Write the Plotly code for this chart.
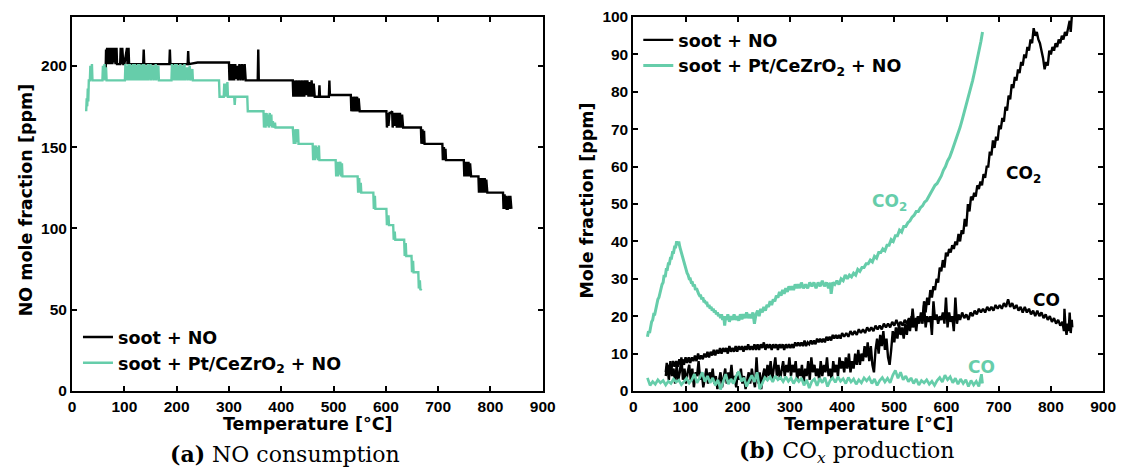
import plotly.graph_objects as go

# ---------------- data (Temperature [°C], ppm) ----------------
# (a) NO mole fraction, soot + NO
no_soot = [(64,193),(65,210),(66,201),(67,211),(68,201),(70,211),(71,201),(73,211),(74,201),(76,211),
           (77,201),(79,211),(80,202),(82,211),(83,201),(85,211),(86,201),(92,201),(93,211),(95,201),
           (96,211),(98,201),(100,201),(105,211),(106,201),(108,211),(109,201),(111,201),
           (136,201),(137,210),(138,201),(186,201),(187,210),(188,201),(221,201),(222,209),(223,201),
           (240,202),(300,202),
           (301,191),(303,201),(304,191),(306,201),(307,191),(309,201),(310,191),(312,201),(313,192),
           (315,200),(317,191),(320,201),(322,191),(325,201),(327,191),(330,201),(332,191),(335,191),
           (355,191),(356,210),(357,191),(422,191),
           (423,181),(425,191),(426,181),(428,191),(429,181),(431,191),(432,181),(434,191),(435,181),
           (437,191),(438,181),(440,191),(441,181),(443,191),(444,181),(446,191),(448,182),(450,191),
           (452,181),(454,190),(456,181),(458,191),(460,181),(462,189),(464,181),(472,181),(473,188),
           (474,181),(491,181),(492,191),(493,182),(533,182),
           (534,172),(536,181),(537,172),(539,181),(540,172),(542,181),(543,172),(545,181),(546,172),
           (548,180),(550,172),(554,172),(601,172),
           (602,162),(604,171),(605,163),(607,171),(609,171),(612,172),(613,162),(615,171),(617,163),
           (619,171),(621,162),(623,171),(625,162),(627,171),(629,162),(631,170),(633,162),(636,162),
           (667,162),(668,152),(670,161),(671,152),(673,160),(674,152),(708,152),
           (709,142),(711,150),(712,142),(714,149),(715,142),(749,142),
           (750,132),(752,141),(753,132),(755,141),(756,132),(758,141),(759,132),(761,140),(763,132),
           (777,132),(778,122),(780,131),(781,122),(783,131),(784,122),(786,131),(787,122),(789,131),
           (790,122),(792,130),(794,122),(796,122),(824,122),
           (825,112),(827,121),(828,112),(830,120),(831,112),(833,112),(835,120),(836,112),(838,120),
           (840,112)]

# (a) NO mole fraction, soot + Pt/CeZrO2 + NO
no_cat = [(27,172),(28,180),(29,175),(30,186),(31,178),(32,191),(34,191),(35,200),(36,191),(38,201),
          (39,191),(58,191),(59,200),(60,191),(62,201),(63,191),(65,199),(66,191),
          (101,191),(102,201),(103,191),(105,200),(106,191),(108,201),(109,191),(111,201),(112,191),
          (114,200),(115,191),(117,201),(118,191),(120,201),(121,191),(123,200),(124,191),(126,201),
          (127,191),(129,201),(130,191),(132,200),(133,191),(135,201),(136,191),(138,201),(139,191),
          (141,200),(142,191),(145,201),(146,191),(150,201),(151,191),(155,200),(156,191),(160,201),
          (161,191),(165,200),(166,191),
          (190,191),(191,201),(192,191),(194,200),(195,191),(197,201),(198,191),(200,201),(201,191),
          (203,200),(204,191),(207,201),(208,191),(211,200),(212,191),(215,201),(216,191),(220,199),
          (221,191),(225,200),(226,191),(230,198),(231,191),(281,191),
          (282,181),(290,181),(291,189),(292,181),(294,189),(295,181),(297,190),(298,181),(310,181),
          (311,176),(312,181),(335,181),(336,172),(366,172),
          (367,162),(369,171),(370,162),(372,171),(373,163),(375,170),(376,162),(378,171),(379,163),
          (381,170),(382,162),(384,166),(385,162),(388,165),(389,162),(422,162),
          (424,152),(426,161),(427,152),(429,161),(430,153),(432,161),(433,152),(435,152),(460,152),
          (461,142),(463,151),(464,142),(466,151),(467,143),(469,150),(470,142),(472,151),(473,142),
          (504,142),(505,132),(507,141),(508,132),(510,141),(511,133),(513,141),(514,132),(516,140),
          (517,132),(520,132),(546,132),(547,122),(549,131),(550,122),(552,128),(553,122),(576,122),
          (577,112),(579,120),(580,112),(601,112),(602,102),(605,108),(606,102),(614,102),
          (615,93),(617,98),(618,93),(635,93),(636,83),(638,91),(639,83),(649,83),
          (650,73),(652,80),(653,73),(662,73),(663,63),(665,68),(666,62),(668,63)]

# (b) CO2, soot + NO
co2_soot = [(62,4),(65,7),(68,3),(71,8),(74,4),(77,6),(80,2),(83,7),(86,3),(89,5),(92,9),(95,3),
            (98,6),(101,2),(104,5),(107,7),(110,3),(113,6),(116,1),(119,5),(122,4),(125,8),(128,3),
            (131,5),(134,1),(137,4),(140,6),(143,2),(146,5),(149,3),(152,6),(155,2),(158,4),(161,0.5),
            (164,3),(167,5),(170,1),(173,4),(176,6),(179,2),(182,5),(185,3),(188,7),(191,2),(194,4),
            (197,1),(200,5),(203,3),(206,6),(209,2),(212,4),(215,0.5),(218,3),(221,5),(224,2),(227,6),
            (230,3),(233,1),(236,9),(239,2),(242,5),(245,0.5),(248,4),(251,6),(254,3),(257,7),(260,4),
            (263,8),(266,3),(269,6),(272,9),(275,4),(278,7),(281,3),(284,6),(287,8),(290,4),(293,7),
            (296,5),(299,9),(302,4),(305,7),(308,5),(311,8),(314,3),(317,6),(320,4),(323,7),(326,2),
            (329,6),(332,4),(335,8),(338,3),(341,9),(344,5),(347,7),(350,4),(353,6),(356,3),(359,8),
            (362,4),(365,7),(368,5),(371,9),(374,4),(377,6),(380,3),(383,8),(386,5),(389,7),(392,4),
            (395,9),(398,6),(401,8),(404,5),(407,9),(410,6),(413,10),(416,5),(419,8),(422,6),(425,10),
            (428,7),(431,11),(434,7),(437,10),(440,8),(443,12),(446,9),(449,13),(452,8),(455,12),
            (458,7),(461,5),(464,11),(467,14),(470,10),(473,15),(476,12),(479,16),(482,11),(485,14),
            (488,9),(491,7),(494,11),(497,16),(500,13),(503,17),(506,14),(509,18),(512,15),(515,17),
            (518,14),(521,18),(524,15),(527,19),(530,16),(533,20),(536,17),(539,19),(542,16),(545,20),
            (548,18),(551,21),(554,19),(557,24),(560,21),(563,25),(566,23),(569,27),(572,25),(575,28),
            (578,27),(581,30),(584,29),(587,33),(590,32),(593,35),(596,33),(599,37),(602,36),(605,38),
            (608,37),(611,39),(614,38),(617,40),(620,39),(623,42),(626,40),(629,43),(632,42),(635,46),
            (638,44),(641,50),(644,48),(647,52),(650,51),(653,53),(656,52),(659,55),(662,54),(665,56),
            (668,55),(671,58),(674,57),(677,60),(680,60),(683,64),(686,63),(689,67),(692,65),(695,68),
            (698,67),(701,71),(704,70),(707,73),(710,72),(713,76),(716,75),(719,79),(722,78),(725,82),
            (728,81),(731,84),(734,83),(737,86),(740,85),(743,88),(746,87),(749,90),(752,89),(755,92),
            (758,91),(761,94),(764,93),(767,97),(770,95),(773,96),(776,94),(779,93),(782,91),(785,89),
            (788,86),(791,88),(794,87),(797,91),(800,90),(803,92),(806,91),(809,93),(812,92),(815,94),
            (818,93),(821,95),(824,94),(827,96),(830,95),(833,97),(836,99),(838,96),(840,100)]

# (b) CO, soot + NO
co_soot = [(62,5),(64,7.5),(67,5.5),(70,7),(73,6),(76,8),(79,6.5),(82,8),(85,6.5),(88,8.5),(91,7),
           (94,8.5),(97,7),(100,9),(103,7.5),(106,9),(109,7.5),(112,9),(115,8),(118,9.5),(121,8),
           (124,10),(127,8.5),(130,9.5),(133,8.5),(136,10),(139,9),(142,10.5),(145,9),(148,10.5),
           (151,9.5),(154,11),(157,9.5),(160,11),(163,10),(166,11.5),(169,10),(172,11.5),(175,10.5),
           (178,11.5),(181,10),(184,12),(187,10.5),(190,11.5),(193,10.5),(196,12),(199,10.5),(202,12),
           (205,11),(208,12),(211,10.5),(214,12),(217,11),(220,12.5),(223,11),(226,12),(229,11),
           (232,12.5),(235,11),(238,12.5),(241,11),(244,12.5),(247,11.5),(250,13),(253,11),(256,12.5),
           (259,11.5),(262,12.5),(265,11),(268,12.5),(271,11.5),(274,12.5),(277,11),(280,12.5),
           (283,11.5),(286,12.5),(289,11),(292,12.5),(295,11.5),(298,12.5),(301,11.5),(304,12.5),
           (307,11.5),(310,13),(313,12),(316,13),(319,12),(322,13),(325,12),(328,13.5),(331,12),
           (334,13),(337,12.5),(340,13.5),(343,12.5),(346,13.5),(349,12.5),(352,14),(355,13),(358,14),
           (361,13),(364,14),(367,13),(370,14.5),(373,13.5),(376,14.5),(379,13.5),(382,15),(385,14),
           (388,15),(391,14),(394,15),(397,14),(400,15.5),(404,14.5),(408,15.5),(412,14.5),(416,16),
           (420,15),(424,16),(428,15),(432,16.5),(436,15.5),(440,16.5),(444,15.5),(448,17),(452,16),
           (456,17),(460,16),(464,17.5),(468,16.5),(472,17.5),(476,16.5),(480,18),(484,17),(488,18),
           (492,17),(496,18.5),(500,17.5),(504,19),(508,17.5),(512,18.5),(516,17.5),(520,19),(524,18),
           (528,19.5),(532,17),(535,22),(538,18),(542,19.5),(546,18.5),(550,20),(554,18),(557,23),
           (560,17),(563,20),(566,18.5),(569,20),(572,15),(575,24),(578,19),(581,20.5),(584,18),
           (587,20),(590,19),(593,21),(596,18),(599,25),(602,17),(605,21),(608,18.5),(611,20),(614,16),
           (617,25),(620,18),(623,20.5),(626,19),(630,21),(634,19.5),(638,20.5),(642,19),(646,21),
           (650,20),(654,21.5),(658,20.5),(662,22),(666,21),(670,22),(674,21),(678,22.5),(682,21.5),
           (686,22.5),(690,21.5),(694,23),(698,22),(702,23),(706,22),(710,23.5),(714,22.5),(718,24.5),
           (722,22.5),(726,23.5),(730,22),(734,23),(738,21.5),(742,22.5),(746,21),(750,22.5),(754,21),
           (758,22),(762,20.5),(766,21.5),(770,20),(774,21.5),(778,20),(782,21),(786,19.5),(790,20.5),
           (794,19),(798,20),(802,18.5),(806,19.5),(810,18),(814,19),(818,17.5),(822,18.5),(825,16),
           (826,22),(828,17),(830,15),(832,18),(834,16),(836,21),(838,15.5),(840,19),(841,17)]

# (b) CO2, soot + Pt/CeZrO2 + NO
co2_cat = [(27,14.5),(29,16),(31,15.5),(33,17.5),(35,18.5),(37,19),(39,20.5),(41,20.5),(43,22),
           (45,23),(47,24.5),(49,25),(51,26.5),(53,27),(55,28.5),(57,29),(59,31),(61,30.5),(63,32.5),
           (65,32.5),(67,34),(69,34),(71,35.5),(73,35.5),(75,37),(77,37),(79,38.5),(81,38.5),(83,40),
           (85,39),(87,40),(89,38.5),(91,37.5),(93,36.5),(95,35),(97,34),(99,33),(101,32),(103,31.5),
           (105,31),(107,30),(109,30),(111,29),(113,29),(115,28),(117,28.5),(119,27),(121,27.5),
           (123,26.5),(125,26),(127,25.5),(129,25.5),(131,24.5),(133,25),(135,24),(137,24),(139,23.5),
           (141,23.5),(143,22.5),(145,23),(147,22),(149,22.5),(151,21.5),(153,22),(155,21),(157,21.5),
           (159,20.5),(161,21),(163,20),(165,20.5),(167,19.5),(169,20.5),(171,19),(173,20),(175,17.5),
           (177,20),(179,19),(181,20.5),(184,18.5),(187,20),(190,19),(193,20.5),(196,19),(199,20),
           (202,18.8),(205,20.5),(208,19.2),(211,20.5),(214,19.5),(217,21),(220,19.5),(223,20.5),
           (226,19.5),(229,21),(232,18),(235,20.5),(238,21.5),(241,20),(244,22),(247,21),(250,22.5),
           (253,21.5),(256,23),(259,22.5),(262,24),(265,23),(268,24.5),(271,24),(274,25.5),(277,25),
           (280,26.5),(283,25.5),(286,27),(289,26),(292,27.5),(295,26.5),(298,28),(301,27),(304,28),
           (307,27),(310,28.5),(313,27.5),(316,28.5),(319,27.5),(322,29),(326,27.5),(330,28.5),
           (334,27.5),(338,29),(342,28),(346,29),(350,27.5),(354,29),(358,28),(362,29.5),(366,28),
           (370,29),(374,27.5),(377,29),(379,26),(382,29),(386,28.5),(390,29.5),(394,28.5),(398,30),
           (402,29.5),(406,31),(410,30),(414,31),(418,30.5),(422,31.5),(426,31),(430,32.5),(434,32),
           (438,33),(442,33),(446,34),(450,34),(454,35),(458,34.5),(462,36),(466,35.5),(470,37),
           (474,37),(478,38),(482,37.5),(486,39),(490,39),(494,40.5),(498,40),(502,41.5),(506,41.5),
           (510,43),(514,42.5),(518,44),(522,44),(526,45),(530,45.5),(534,46.5),(538,47),(542,48),
           (546,48),(550,49),(554,49.5),(558,50.5),(562,51),(566,52),(570,53),(574,54),(578,55),
           (582,55.5),(586,56.5),(590,57.5),(594,59),(598,60),(602,61.5),(606,62.5),(610,64),
           (614,65.5),(618,67),(622,69),(626,70.5),(630,72.5),(634,74.5),(638,76.5),(642,78.5),
           (646,81),(650,83),(654,85.5),(658,88),(662,90.5),(666,93.5),(669,96)]

# (b) CO, soot + Pt/CeZrO2 + NO
co_cat = [(27,3.5),(32,1.5),(37,2.5),(42,1.8),(47,3),(52,2.2),(57,2.8),(62,1.6),(67,2.6),(72,2),
          (77,3.2),(82,2.4),(87,2.9),(92,1.7),(97,2.5),(102,3.4),(107,2.1),(112,3),(117,4.5),(122,2.2),
          (127,3.5),(132,5),(137,2.5),(142,4),(147,2.2),(152,3.5),(157,1.5),(162,3),(167,0.4),(172,2.5),
          (177,4.5),(182,1.8),(187,3.2),(192,2),(197,4),(202,5.2),(207,2.6),(212,3.5),(217,1.2),
          (222,2.8),(227,4.2),(232,2.4),(237,5),(242,0.5),(247,2.2),(252,3.6),(257,2.9),(262,3.8),
          (267,2.4),(272,4),(277,3),(282,3.6),(287,2.5),(292,3.8),(297,2.6),(302,3.5),(307,2),
          (312,3.3),(317,2.5),(322,3.5),(327,1.5),(332,3),(337,0.8),(342,2.6),(347,3.2),(352,1.4),
          (357,3.4),(362,2.2),(367,3.6),(372,1.2),(377,2.8),(382,3.5),(387,2.3),(392,3.8),(397,2.6),
          (402,3.3),(407,2),(412,3.6),(417,2.4),(422,3.2),(427,1.8),(432,3),(437,2.2),(442,3.5),
          (447,2.7),(452,3.6),(457,2),(462,3.2),(467,1.5),(472,2.8),(477,3.6),(482,2.4),(487,3.4),
          (492,2.2),(497,4.2),(502,5.5),(507,3.4),(512,5),(517,3),(522,4),(527,2.5),(532,3.5),(537,2),
          (542,3.2),(547,1.6),(552,2.8),(557,2.2),(562,3),(567,1.8),(572,2.6),(577,1.5),(582,2.8),
          (587,3.6),(592,2.4),(597,4.2),(602,3),(607,3.8),(612,2.2),(617,3.4),(622,1.8),(627,3.2),
          (632,2),(637,3),(642,1.2),(647,2.8),(652,1.6),(657,2.6),(662,1.2),(665,3.2),(667,4.5),(669,2)]

x_ticks = [0, 100, 200, 300, 400, 500, 600, 700, 800, 900]
no_ticks = [0, 50, 100, 150, 200]
mole_ticks = [0, 10, 20, 30, 40, 50, 60, 70, 80, 90, 100]

label_soot = "soot + NO"
label_cat = "soot + Pt/CeZrO<sub>2</sub> + NO"

BLACK = "#000000"
TEAL = "#66CDAA"

# the page body has an 8 px margin; the figure is sized to fit inside it
OFF = 8
W, H = 1129 - 2 * OFF, 476 - 2 * OFF
PLOT_TOP, PLOT_BOTTOM = 16, 391          # page pixels of the axes box
PLOT_H = PLOT_BOTTOM - PLOT_TOP


def px(page_x):
    return (page_x - OFF) / W


def py(page_y):
    return (PLOT_BOTTOM - page_y) / PLOT_H


def xs(pts):
    return [p[0] for p in pts]


def ys(pts):
    return [p[1] for p in pts]


LW = 2.4
fig = go.Figure()
fig.add_trace(go.Scatter(x=xs(no_soot), y=ys(no_soot), mode="lines", name=label_soot,
                         line=dict(color=BLACK, width=LW), xaxis="x", yaxis="y", legend="legend"))
fig.add_trace(go.Scatter(x=xs(no_cat), y=ys(no_cat), mode="lines", name=label_cat,
                         line=dict(color=TEAL, width=LW), xaxis="x", yaxis="y", legend="legend"))

fig.add_trace(go.Scatter(x=xs(co2_soot), y=ys(co2_soot), mode="lines", name=label_soot,
                         line=dict(color=BLACK, width=LW), xaxis="x2", yaxis="y2", legend="legend2"))
fig.add_trace(go.Scatter(x=xs(co_soot), y=ys(co_soot), mode="lines", name=label_soot, showlegend=False,
                         line=dict(color=BLACK, width=LW), xaxis="x2", yaxis="y2", legend="legend2"))
fig.add_trace(go.Scatter(x=xs(co2_cat), y=ys(co2_cat), mode="lines", name=label_cat,
                         line=dict(color=TEAL, width=LW + 0.6), xaxis="x2", yaxis="y2", legend="legend2"))
fig.add_trace(go.Scatter(x=xs(co_cat), y=ys(co_cat), mode="lines", name=label_cat, showlegend=False,
                         line=dict(color=TEAL, width=LW + 0.3), xaxis="x2", yaxis="y2", legend="legend2"))

tickfont = dict(family="Liberation Sans", size=15.5, color=BLACK, weight="bold")
axis_common = dict(showline=True, linewidth=2, linecolor=BLACK, mirror="ticks", ticks="inside",
                   ticklen=5, tickwidth=1.5, tickcolor=BLACK, showgrid=False, zeroline=False,
                   tickfont=tickfont, ticklabeloverflow="allow")

legend_font = dict(family="DejaVu Sans", size=17.5, color=BLACK, weight="bold")

fig.update_layout(
    width=W, height=H,
    margin=dict(l=0, r=0, t=PLOT_TOP - OFF, b=H - (PLOT_BOTTOM - OFF)),
    paper_bgcolor="white", plot_bgcolor="white",
    xaxis=dict(domain=[px(69), px(547)], range=[0, 900], tickvals=x_ticks, anchor="y", **axis_common),
    yaxis=dict(domain=[0, 1], range=[0, 230], tickvals=no_ticks, anchor="x", **axis_common),
    xaxis2=dict(domain=[px(639), px(1116)], range=[0, 900], tickvals=x_ticks, anchor="y2", **axis_common),
    yaxis2=dict(domain=[0, 1], range=[0, 100], tickvals=mole_ticks, anchor="x2", **axis_common),
    legend=dict(x=px(75), y=py(319), xanchor="left", yanchor="top", bgcolor="rgba(0,0,0,0)",
                borderwidth=0, font=legend_font, itemwidth=30, tracegroupgap=0),
    legend2=dict(x=px(644), y=py(21), xanchor="left", yanchor="top", bgcolor="rgba(0,0,0,0)",
                 borderwidth=0, font=legend_font, itemwidth=30, tracegroupgap=0),
    showlegend=True,
)

title_font = dict(family="DejaVu Sans", size=17.5, color=BLACK, weight="bold")
caption_font = dict(family="DejaVu Serif", size=22, color=BLACK)
lab = lambda c: dict(family="DejaVu Sans", size=17, color=c, weight="bold")

annotations = [
    dict(text="Temperature [°C]", x=px(308.5), y=py(424), xref="paper", yref="paper",
         showarrow=False, font=title_font, xanchor="center", yanchor="middle"),
    dict(text="Temperature [°C]", x=px(878), y=py(424), xref="paper", yref="paper",
         showarrow=False, font=title_font, xanchor="center", yanchor="middle"),
    dict(text="NO mole fraction [ppm]", x=px(22), y=py(200), xref="paper", yref="paper",
         showarrow=False, font=title_font, textangle=-90, xanchor="center", yanchor="middle"),
    dict(text="Mole fraction [ppm]", x=px(591), y=py(200), xref="paper", yref="paper",
         showarrow=False, font=title_font, textangle=-90, xanchor="center", yanchor="middle"),
    dict(text="<b>(a)</b> NO consumption", x=px(285), y=py(454), xref="paper", yref="paper",
         showarrow=False, font=caption_font, xanchor="center", yanchor="middle"),
    dict(text="<b>(b)</b> CO<sub><i>x</i></sub> production", x=px(855), y=py(452),
         xref="paper", yref="paper", showarrow=False, font=caption_font, xanchor="center", yanchor="middle"),
    dict(text="CO<sub>2</sub>", x=453, y=50.5, xref="x2", yref="y2", showarrow=False,
         font=lab(TEAL), xanchor="left", yanchor="middle"),
    dict(text="CO<sub>2</sub>", x=711, y=58, xref="x2", yref="y2", showarrow=False,
         font=lab(BLACK), xanchor="left", yanchor="middle"),
    dict(text="CO", x=762, y=24.4, xref="x2", yref="y2", showarrow=False,
         font=lab(BLACK), xanchor="left", yanchor="middle"),
    dict(text="CO", x=637, y=6.5, xref="x2", yref="y2", showarrow=False,
         font=lab(TEAL), xanchor="left", yanchor="middle"),
]
fig.update_layout(annotations=annotations)

fig.write_html("out.html")
